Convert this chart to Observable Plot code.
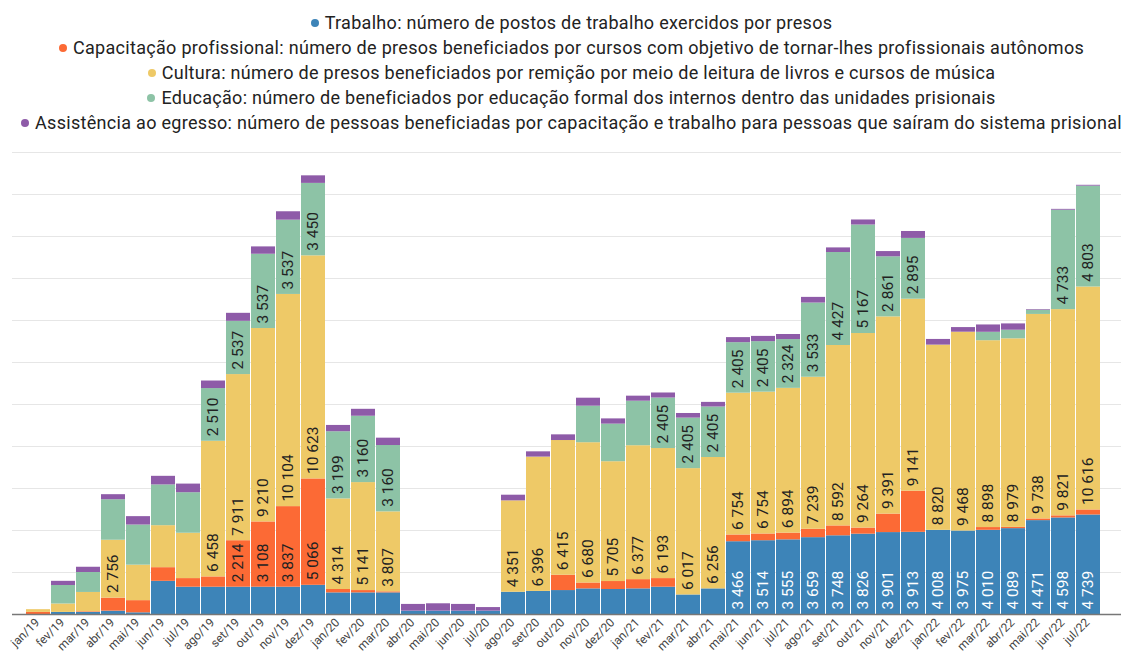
<!DOCTYPE html>
<html>
<head>
<meta charset="utf-8">
<script src="https://cdn.jsdelivr.net/npm/d3@7"></script>
<script src="https://cdn.jsdelivr.net/npm/@observablehq/plot@0.6"></script>
<style>
  body { margin: 0; background: #fff; font-family: Roboto, sans-serif; }
  #legend { height: 140px; box-sizing: border-box; padding-top: 10px; padding-left: 20px; width: 1123px; }
  .row { display: flex; justify-content: center; align-items: center; height: 25px; font-size: 18px; letter-spacing: 0.3px; color: #222; white-space: nowrap; }
  .dot { width: 8px; height: 8px; border-radius: 50%; margin-right: 6px; flex: none; }
</style>
</head>
<body>
<div id="legend"></div>
<div id="chart"></div>
<script>
const months = ["jan/19","fev/19","mar/19","abr/19","mai/19","jun/19","jul/19","ago/19","set/19","out/19","nov/19","dez/19",
  "jan/20","fev/20","mar/20","abr/20","mai/20","jun/20","jul/20","ago/20","set/20","out/20","nov/20","dez/20",
  "jan/21","fev/21","mar/21","abr/21","mai/21","jun/21","jul/21","ago/21","set/21","out/21","nov/21","dez/21",
  "jan/22","fev/22","mar/22","abr/22","mai/22","jun/22","jul/22"];

const seriesNames = ["Trabalho", "Capacitação profissional", "Cultura", "Educação", "Assistência ao egresso"];
const seriesLabels = [
  "Trabalho: número de postos de trabalho exercidos por presos",
  "Capacitação profissional: número de presos beneficiados por cursos com objetivo de tornar-lhes profissionais autônomos",
  "Cultura: número de presos beneficiados por remição por meio de leitura de livros e cursos de música",
  "Educação: número de beneficiados por educação formal dos internos dentro das unidades prisionais",
  "Assistência ao egresso: número de pessoas beneficiadas por capacitação e trabalho para pessoas que saíram do sistema prisional"
];
const seriesColors = ["#3d84b8", "#fc6a35", "#eec967", "#8dc3a6", "#8e5ba8"];

const trabalho = [0, 100, 100, 160, 80, 1580, 1300, 1300, 1300, 1300, 1300, 1390,
  1030, 1030, 1030, 160, 160, 160, 160, 1060, 1100, 1140, 1220, 1190,
  1220, 1300, 930, 1220, 3466, 3514, 3555, 3659, 3748, 3826, 3901, 3913,
  4008, 3975, 4010, 4089, 4471, 4598, 4739];
const capacitacao = [100, 0, 30, 620, 580, 650, 410, 490, 2214, 3108, 3837, 5066,
  160, 110, 50, 0, 0, 0, 0, 0, 0, 730, 280, 380,
  440, 410, 0, 0, 320, 320, 320, 400, 470, 290, 880, 1960,
  0, 0, 130, 60, 80, 100, 240];
const cultura = [130, 400, 920, 2756, 1690, 2000, 2160, 6458, 7911, 9210, 10104, 10623,
  4314, 5141, 3807, 0, 0, 0, 0, 4351, 6396, 6415, 6680, 5705,
  6377, 6193, 6017, 6256, 6754, 6754, 6894, 7239, 8592, 9264, 9391, 9141,
  8820, 9468, 8898, 8979, 9738, 9821, 10616];
const educacao = [0, 880, 950, 1930, 1910, 1940, 1930, 2510, 2537, 3537, 3537, 3450,
  3199, 3160, 3160, 0, 0, 0, 0, 0, 0, 0, 1740, 1790,
  2120, 2405, 2405, 2405, 2405, 2405, 2324, 3533, 4427, 5167, 2861, 2895,
  0, 0, 400, 410, 200, 4733, 4803];
const egresso = [0, 200, 250, 240, 400, 410, 410, 360, 380, 350, 400, 360,
  300, 330, 350, 320, 350, 320, 170, 270, 250, 270, 380, 250,
  240, 240, 220, 220, 240, 250, 240, 270, 220, 240, 250, 330,
  270, 220, 350, 300, 30, 40, 40];

const yTicks = [0, 2000, 4000, 6000, 8000, 10000, 12000, 14000, 16000, 18000, 20000, 22000];

const seriesValues = [trabalho, capacitacao, cultura, educacao, egresso];
const data = [];
months.forEach((m, i) => {
  seriesNames.forEach((s, j) => data.push({month: m, series: s, value: seriesValues[j][i]}));
});

const fmt = d3.formatLocale({decimal: ",", thousands: " ", grouping: [3], currency: ["R$", ""]}).format(",d");
const labelMin = 2200;

// legend
const legend = document.getElementById("legend");
seriesLabels.forEach((t, j) => {
  const row = document.createElement("div");
  row.className = "row";
  const dot = document.createElement("span");
  dot.className = "dot";
  dot.style.background = seriesColors[j];
  const txt = document.createElement("span");
  txt.textContent = t;
  row.appendChild(dot); row.appendChild(txt);
  legend.appendChild(row);
});

const stackOpts = {x: "month", y: "value", z: "series", order: seriesNames};
const labelOpts = {rotate: -90, textAnchor: "start", lineAnchor: "middle", dy: -5, fontSize: 15.5, fontFamily: "Roboto, sans-serif"};

const chart = Plot.plot({
  width: 1123,
  height: 512,
  marginTop: 12,
  marginBottom: 38,
  marginLeft: 12,
  marginRight: 2,
  style: {fontFamily: "Roboto, sans-serif", fontSize: "12px", color: "#444", background: "transparent"},
  x: {domain: months, range: [22, 1103], padding: 0.04, axis: null},
  y: {domain: [0, 22000], axis: null},
  color: {domain: seriesNames, range: seriesColors},
  marks: [
    Plot.ruleY(yTicks.slice(1), {stroke: "#e6e6e6", strokeWidth: 1}),
    Plot.barY(data, Plot.stackY({...stackOpts, fill: "series"})),
    Plot.text(data, Plot.stackY1({...stackOpts, ...labelOpts,
      text: d => (d.series === "Trabalho" && d.value >= labelMin) ? fmt(d.value) : "",
      fill: "white"})),
    Plot.text(data, Plot.stackY1({...stackOpts, ...labelOpts,
      text: d => (d.series !== "Trabalho" && d.value >= labelMin) ? fmt(d.value) : "",
      fill: "#222"})),
    Plot.ruleY([0], {stroke: "#777", strokeWidth: 1.5}),
    Plot.text(months, {x: d => d, text: d => d, frameAnchor: "bottom", rotate: -45,
      textAnchor: "end", lineAnchor: "middle", dx: -1, dy: 6, fontSize: 12, fill: "#444"})
  ]
});
document.getElementById("chart").appendChild(chart);
</script>
</body>
</html>
